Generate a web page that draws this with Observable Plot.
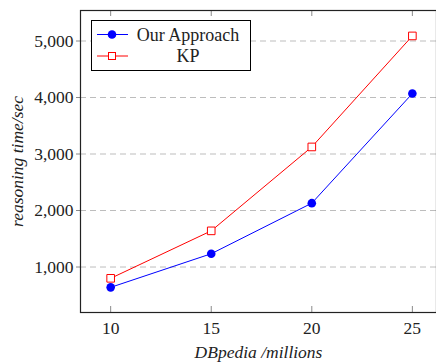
<!DOCTYPE html>
<html>
<head>
<meta charset="utf-8">
<script src="https://cdn.jsdelivr.net/npm/d3@7"></script>
<script src="https://cdn.jsdelivr.net/npm/@observablehq/plot@0.6"></script>
<style>
  html, body { margin: 0; padding: 0; background: #fff; overflow: hidden; }
  #chart { position: relative; width: 436px; height: 363px; }
  #chart svg, #chart svg text { font-family: 'Liberation Serif', serif; }
  [aria-label="y-axis label"] text, [aria-label="x-axis label"] text { font-style: italic; }
  #legend { position: absolute; left: 91px; top: 20px; width: 158px; height: 49px;
            border: 1px solid #000; background: #fff; box-sizing: content-box; }
</style>
</head>
<body>
<div id="chart"></div>
<script>
const sizes = [10, 15, 20, 25];              // DBpedia / millions
const ourApproach = [640, 1235, 2130, 4070]; // reasoning time / sec
const kp = [800, 1640, 3125, 5090];
const seriesNames = ["Our Approach", "KP"];
const seriesColors = ["#0000ff", "#ff0000"];
const xTicks = [10, 15, 20, 25];
const yTicks = [1000, 2000, 3000, 4000, 5000];

const rows = [];
sizes.forEach((s, i) => {
  rows.push({x: s, y: ourApproach[i], series: seriesNames[0]});
  rows.push({x: s, y: kp[i], series: seriesNames[1]});
});
const our = rows.filter(d => d.series === seriesNames[0]);
const kps = rows.filter(d => d.series === seriesNames[1]);

const W = 436, H = 363, mt = 10, mb = 51, ml = 80;
const innerH = H - mt - mb;

const plot = Plot.plot({
  width: W, height: H,
  marginLeft: ml, marginRight: 0, marginTop: mt, marginBottom: mb,
  style: {fontSize: "17.5px", fontFamily: "'Liberation Serif', serif", color: "#222", background: "#fff"},
  x: {domain: [8.5, 26.2]},
  y: {domain: [195, 5540]},
  marks: [
    Plot.ruleY(yTicks, {stroke: "#bdbdbd", strokeDasharray: "6,4", strokeWidth: 1}),
    Plot.tickX(xTicks, {x: d => d, stroke: "#8a8a8a", insetTop: innerH - 6}),
    Plot.tickX(xTicks, {x: d => d, stroke: "#8a8a8a", insetBottom: innerH - 6}),
    Plot.axisX({ticks: xTicks, tickSize: 0, tickPadding: 9, tickFormat: d => String(d),
                label: "DBpedia /millions", labelAnchor: "center", labelArrow: "none", labelOffset: 45}),
    Plot.axisY({ticks: yTicks, tickSize: 4, tickPadding: 3, tickFormat: d3.format(","), stroke: "#8a8a8a",
                label: "reasoning time/sec", labelAnchor: "center", labelArrow: "none", labelOffset: 70}),
    Plot.line(our, {x: "x", y: "y", stroke: seriesColors[0], strokeWidth: 1}),
    Plot.line(kps, {x: "x", y: "y", stroke: seriesColors[1], strokeWidth: 1}),
    Plot.dot(our, {x: "x", y: "y", r: 4.3, fill: seriesColors[0], stroke: "none"}),
    Plot.dot(kps, {x: "x", y: "y", r: 4.3, symbol: "square", fill: "#fff", stroke: seriesColors[1], strokeWidth: 1}),
    Plot.frame({stroke: "#222", strokeWidth: 1.2})
  ]
});
const chart = document.getElementById("chart");
chart.appendChild(plot);

// Legend
const lg = document.createElement("div");
lg.id = "legend";
const ns = "http://www.w3.org/2000/svg";
const ls = document.createElementNS(ns, "svg");
ls.setAttribute("width", 158); ls.setAttribute("height", 49);
seriesNames.forEach((name, i) => {
  const cy = i === 0 ? 13.5 : 35;
  const line = document.createElementNS(ns, "line");
  line.setAttribute("x1", 5); line.setAttribute("x2", 36);
  line.setAttribute("y1", cy); line.setAttribute("y2", cy);
  line.setAttribute("stroke", seriesColors[i]);
  ls.appendChild(line);
  if (i === 0) {
    const c = document.createElementNS(ns, "circle");
    c.setAttribute("cx", 20); c.setAttribute("cy", cy); c.setAttribute("r", 4.3);
    c.setAttribute("fill", seriesColors[i]);
    ls.appendChild(c);
  } else {
    const r = document.createElementNS(ns, "rect");
    r.setAttribute("x", 16.5); r.setAttribute("y", cy - 3.5);
    r.setAttribute("width", 7); r.setAttribute("height", 7);
    r.setAttribute("fill", "#fff"); r.setAttribute("stroke", seriesColors[i]);
    ls.appendChild(r);
  }
  const t = document.createElementNS(ns, "text");
  t.setAttribute("x", 96); t.setAttribute("y", cy + 6);
  t.setAttribute("text-anchor", "middle");
  t.setAttribute("font-size", "18px");
  t.setAttribute("font-family", "'Liberation Serif', serif");
  t.setAttribute("fill", "#222");
  t.textContent = name;
  ls.appendChild(t);
});
lg.appendChild(ls);
chart.appendChild(lg);
</script>
</body>
</html>
